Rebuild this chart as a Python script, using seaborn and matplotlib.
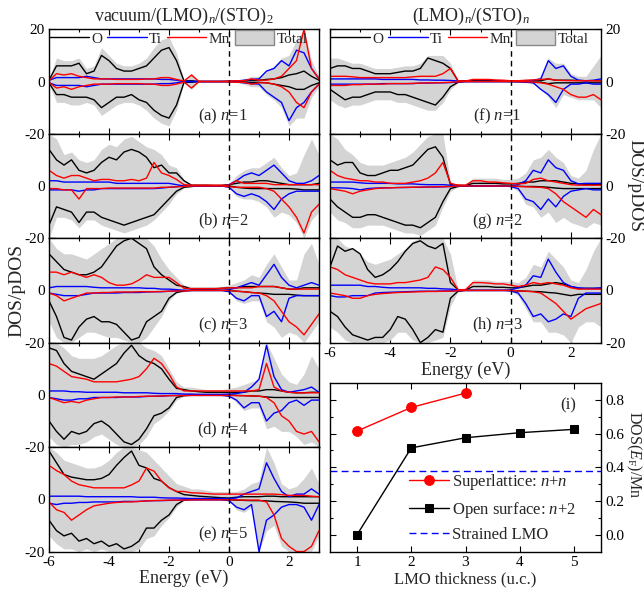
import numpy as np
import matplotlib
matplotlib.use('Agg')
import matplotlib.pyplot as plt
import seaborn as sns
from matplotlib.lines import Line2D
from matplotlib.patches import Patch

energy = np.arange(-6.0, 3.01, 0.25)

# ---- (a) vacuum/(LMO)1/(STO)2
a_O_up = [0.5, 6, 6, 6, 7, 3, 4, 10, 8, 5, 4, 4, 5, 6, 9, 12, 13, 8, 0.2, 0.3, 0, 0, 0, 0, 0.1, 0.2, 0.3, 0.5, 0.5, 0.8, 1, 1.5, 2.5, 3, 4, 2, 0.5]
a_O_dn = [-0.5, -5, -5, -6, -6, -6, -7, -10, -8, -6, -6, -5, -7, -8, -11, -13, -14, -9, -0.3, -0.3, 0, 0, 0, 0, 0, 0, -0.2, -0.3, -0.3, -0.5, -1, -1.5, -2, -3, -3, -1.5, -0.5]
a_Ti_up = [0.5, 1.5, 1.5, 1.5, 1.5, 2, 1.5, 1, 1, 1, 1, 1, 1, 1, 1, 0.8, 0.8, 0.5, 0, 0, 0, 0, 0, 0, 0, 0.2, 0.5, 0.8, 1, 4, 5, 8, 6, 12, 11, 5, 1]
a_Ti_dn = [-0.5, -1.5, -1.5, -1.5, -1.5, -2, -1.5, -1, -1, -1, -1, -1, -1, -1, -1, -0.8, -0.8, -0.5, 0, 0, 0, 0, 0, 0, 0, -0.2, -0.5, -0.8, -1, -4, -6, -8, -15, -10, -8, -4, -1]
a_Mn_up = [0.3, 3, 2.5, 3, 2, 1.5, 1, 1, 1, 0.8, 0.8, 0.8, 0.8, 1, 1, 1.5, 1.5, 0.8, 0.2, 2.5, 0, 0, 0, 0, 0.2, 0.3, 0.3, 1, 0.5, 0.5, 1, 2, 5, 8, 20, 5, 1]
a_Mn_dn = [-0.3, -2.5, -2, -3, -2, -1.5, -1, -1, -1, -0.8, -0.8, -0.8, -0.8, -1, -1, -1.5, -1.5, -1, -0.2, -2.5, 0, 0, 0, 0, -0.2, -0.3, -0.3, -1, -0.5, -0.5, -1, -2, -4, -8, -10, -4, -1]
a_tot_up = [1, 9, 8, 8, 9, 5, 6, 13, 10, 7, 6, 6, 7, 9, 13, 16, 17, 11, 0.5, 3, 0, 0, 0, 0, 0.2, 0.4, 1, 2, 2, 4, 6, 9, 10, 16, 20, 8, 2]
a_tot_dn = [-1, -8, -8, -9, -9, -8, -9, -13, -11, -9, -8, -8, -9, -11, -14, -16, -17, -11, -0.5, -3, 0, 0, 0, 0, -0.2, -0.4, -1, -2, -2, -5, -7, -10, -17, -14, -14, -6, -2]

# ---- (b) n=2
b_O_up = [14, 10, 8, 10, 6, 5, 6, 9, 11, 10, 13, 14, 13, 11, 7, 8, 5, 5, 2, 0.3, 0.3, 0.3, 0.2, 0.2, 0.5, 1, 1.5, 1.5, 2, 2, 1.5, 1, 0.5, 0.5, 0.5, 0.5, 1]
b_O_dn = [-15, -8, -9, -10, -14, -10, -10, -12, -13, -14, -15, -14, -13, -12, -11, -8, -5, -2, -0.5, -0.2, 0, 0, 0, 0, 0, -0.5, -0.8, -1, -1, -1, -1, -1, -1, -1.2, -1.5, -1.5, -1.5]
b_Ti_up = [2, 2, 1.5, 1.5, 1.5, 1.5, 1.5, 1.5, 1.5, 1, 1, 1, 1, 1, 1, 1, 1, 0.5, 0, 0, 0, 0, 0, 0, 0.5, 2, 4, 5, 4, 6, 8, 5, 2, 1, 1, 2, 4]
b_Ti_dn = [-1.5, -1.5, -1.5, -1.5, -2, -1.5, -1.5, -1, -1, -1, -1, -1, -1, -1, -1, -0.8, -0.5, -0.3, 0, 0, 0, 0, 0, 0, -0.5, -3, -4, -3, -4, -6, -9, -5, -3, -2, -2, -2, -2]
b_Mn_up = [6, 4, 3, 4, 4, 3, 2, 2.5, 2.5, 2, 2, 2.5, 2, 3, 9, 5, 4, 2.5, 0.5, 0.3, 0.3, 0.3, 0.3, 0.3, 0.3, 2, 1, 1, 1, 1, 0.5, 0.5, 0.5, 0.5, 0.5, 0.5, 0.5]
b_Mn_dn = [-1, -1, -1.5, -1.5, -5, -1, -1, -1, -0.8, -0.8, -0.8, -0.8, -0.8, -0.8, -0.8, -0.5, -0.5, -0.3, -0.2, 0, 0, 0, 0, 0, -0.3, -0.5, -0.5, -0.5, -0.5, -1, -2, -5, -8, -12, -18, -10, -7]
b_tot_up = [20, 18, 12, 13, 10, 9, 10, 14, 16, 15, 18, 19, 17, 15, 14, 12, 8, 7, 2.5, 0.5, 0.5, 0.5, 0.5, 0.5, 1, 4, 6, 7, 7, 9, 11, 7, 4, 5, 12, 18, 12]
b_tot_dn = [-20, -12, -12, -13, -16, -13, -13, -15, -16, -17, -18, -17, -16, -15, -13, -10, -7, -3, -0.8, -0.3, 0, 0, 0, 0, -0.5, -4, -5, -5, -6, -8, -12, -10, -11, -14, -20, -13, -10]

# ---- (c) n=3
c_O_up = [14, 11, 8, 7, 6, 6, 7, 9, 13, 17, 19, 20, 18, 16, 9, 6, 4, 2, 1.5, 0.5, 0.5, 0.5, 0.5, 0.8, 1, 1, 1.5, 1.5, 1.5, 1.5, 1.5, 1, 0.5, 0.5, 1, 1, 1]
c_O_dn = [-4, -10, -18, -19, -14, -11, -10, -12, -12, -13, -16, -19, -18, -12, -10, -8, -3, -0.8, -0.2, 0, 0, 0, 0, 0, 0, -0.3, -0.5, -0.8, -1, -1.2, -1.5, -1.5, -1.5, -1.8, -2, -2, -2]
c_Ti_up = [1, 1.5, 1.5, 1.5, 1.5, 1.5, 1.2, 1, 1, 1, 1, 1, 1, 0.8, 0.8, 0.5, 0.5, 0.3, 0, 0, 0, 0, 0, 0, 0.3, 1, 2, 3, 2, 6, 10, 5, 2, 1, 2, 3, 2]
c_Ti_dn = [-1, -1.5, -2, -2, -2, -1.5, -1, -1, -1, -1, -0.8, -0.8, -0.8, -0.6, -0.5, -0.5, -0.3, -0.2, 0, 0, 0, 0, 0, 0, -0.5, -3, -4, -2, -2, -10, -8, -12, -3, -2, -2, -2, -2]
c_Mn_up = [7, 7, 6, 7, 6, 5, 6, 5, 3, 2, 2, 2.5, 4, 6, 5, 5, 5, 3, 0.8, 0.7, 0.7, 0.7, 0.7, 0.8, 1, 1, 1, 1, 1.5, 1.5, 1.5, 1, 0.5, 0.5, 0.5, 0.5, 0.5]
c_Mn_dn = [-1, -2, -4, -3, -2, -1, -1, -0.8, -0.8, -0.6, -0.6, -0.6, -0.5, -0.5, -0.5, -0.4, -0.3, -0.2, -0.2, 0, 0, 0, 0, 0, 0, -0.3, -0.5, -0.8, -1, -2, -4, -8, -12, -14, -17, -13, -9]
c_tot_up = [20, 16, 14, 14, 13, 12, 14, 16, 18, 20, 20, 20, 20, 20, 17, 12, 8, 5, 2, 1.5, 1.5, 1.5, 1.5, 1.5, 2, 3, 4, 6, 5, 10, 14, 9, 4, 4, 14, 18, 10]
c_tot_dn = [-12, -18, -20, -20, -18, -16, -16, -17, -18, -18, -19, -20, -20, -18, -14, -10, -4, -1, -0.5, 0, 0, 0, 0, 0, -0.5, -4, -5, -4, -4, -12, -14, -18, -16, -17, -20, -16, -12]

# ---- (d) n=4
d_O_up = [18, 17, 12, 9, 8, 7, 6, 8, 10, 12, 16, 19, 15, 13, 12, 10, 6, 2.5, 2, 1.5, 1.2, 1, 1, 1, 1, 1, 1, 1.5, 1.5, 2, 2, 1.5, 1, 0.8, 0.8, 1, 1]
d_O_dn = [-10, -14, -17, -14, -15, -14, -11, -10, -12, -15, -18, -19, -17, -13, -8, -7, -5, -1, -0.3, 0, 0, 0, 0, 0, 0, -0.2, -0.3, -0.4, -0.5, -0.8, -1, -1, -1, -1, -1, -1, -1]
d_Ti_up = [1.5, 1.5, 1.5, 1.2, 1.2, 1, 1, 1, 1, 1, 0.8, 0.8, 0.8, 0.8, 0.6, 0.5, 0.5, 0.5, 0.3, 0.3, 0.2, 0.2, 0.2, 0.2, 0.3, 0.5, 1, 3, 6, 19, 7, 2, 1, 1.5, 2, 3, 1]
d_Ti_dn = [-1, -1.5, -2, -2, -1.5, -1.5, -1, -1, -1, -1, -0.8, -0.8, -0.8, -0.6, -0.5, -0.5, -0.3, -0.2, -0.2, -0.2, -0.2, -0.2, -0.2, -0.2, -0.5, -2, -5, -3, -3, -10, -7, -6, -3, -2, -4, -2, -2]
d_Mn_up = [12, 11, 9, 7, 6.5, 6, 5, 5, 5, 5, 5.5, 6, 7, 10, 14, 12, 8, 3, 1.5, 1.5, 1.5, 1.5, 1.5, 1.5, 1.5, 1.5, 1.5, 1.5, 2, 12, 3, 1.5, 1, 0.8, 0.8, 0.8, 0.8]
d_Mn_dn = [-1, -2, -3, -2.5, -3, -2, -1.5, -1, -1, -0.8, -0.8, -0.8, -0.6, -0.5, -0.5, -0.4, -0.3, -0.3, -0.3, -0.2, -0.2, -0.2, -0.2, -0.2, -0.2, -0.3, -0.3, -0.4, -0.5, -1, -3, -8, -10, -14, -15, -14, -18]
d_tot_up = [20, 20, 18, 15, 14, 14, 14, 15, 17, 19, 20, 20, 20, 18, 17, 15, 10, 5, 3, 3, 2.5, 2, 2, 2, 2.5, 3, 4, 5, 6, 20, 14, 8, 5, 4, 8, 15, 10]
d_tot_dn = [-16, -19, -20, -19, -19, -18, -16, -15, -17, -19, -20, -20, -19, -16, -11, -9, -6, -2, -0.5, -0.3, -0.3, -0.3, -0.3, -0.3, -0.5, -3, -6, -5, -5, -13, -12, -14, -14, -16, -19, -18, -20]

# ---- (e) n=5
e_O_up = [18.5, 14, 9.5, 8.5, 8, 7.5, 7.5, 8, 9.5, 13, 16, 18.5, 13, 12, 8, 7, 4.5, 3, 1.8, 1.5, 1.2, 1, 0.8, 0.6, 0.5, 0.8, 1, 1, 1, 1.2, 1.2, 1, 1, 1, 1, 1, 1]
e_O_dn = [-8, -12, -14, -13, -16, -15, -17, -16, -18, -17, -19, -18, -16, -11, -11, -8, -6, -2, -0.3, 0, 0, 0, 0, 0, -0.2, -0.3, -0.4, -0.5, -0.5, -0.6, -0.8, -0.9, -1, -1.2, -1.5, -1.5, -1.5]
e_Ti_up = [1.2, 1.2, 1.2, 1.2, 1.2, 1, 1, 1, 1, 1, 1, 1, 0.8, 0.8, 0.8, 0.6, 0.5, 0.5, 0.4, 0.3, 0.3, 0.3, 0.3, 0.3, 0.3, 0.5, 2, 3, 4, 14, 8, 3, 1, 2, 2, 4, 2]
e_Ti_dn = [-1.5, -2, -1.5, -1.5, -1.2, -1.2, -1, -1, -1, -1, -0.8, -0.8, -0.8, -0.6, -0.5, -0.5, -0.4, -0.3, -0.2, -0.2, -0.2, -0.2, -0.2, -0.2, -0.5, -3, -4, -2, -20, -8, -6, -3, -2, -2, -3, -8, -2]
e_Mn_up = [13, 11, 9.5, 7, 5.6, 5, 4.4, 4.4, 4.4, 4.4, 4.4, 5.5, 7, 12, 10.8, 7, 4.4, 3, 3, 2.5, 2.4, 2.2, 2, 2, 2, 2, 2, 2, 2, 2, 2, 1.8, 1.5, 1.5, 1.5, 1.2, 1]
e_Mn_dn = [-1, -4, -5, -8, -6, -4, -2.5, -2, -1.5, -1.2, -1, -1, -0.8, -0.6, -0.5, -0.4, -0.3, -0.3, -0.3, -0.2, -0.2, -0.2, -0.2, -0.2, -0.2, -0.2, -0.3, -0.3, -0.3, -1, -6, -15, -18, -20, -20, -18, -12]
e_tot_up = [20, 18, 15, 14, 13, 12, 12, 13, 15, 18, 20, 20, 19, 18, 15, 12, 9, 6, 5, 4, 4, 3.5, 3, 3, 3, 3, 4, 6, 7, 20, 14, 6, 4, 5, 8, 12, 6]
e_tot_dn = [-14, -17, -19, -19, -20, -19, -20, -19, -20, -20, -20, -20, -19, -15, -14, -10, -7, -3, -0.5, -0.3, -0.3, -0.3, -0.3, -0.3, -0.5, -4, -5, -3, -20, -12, -10, -18, -20, -20, -20, -20, -14]

# ---- (f) (LMO)1/(STO)1
f_O_up = [5, 6, 6, 5, 5, 4, 3, 3, 3, 3.5, 4, 4, 5, 9, 8, 7, 5, 0.3, 0.3, 0.3, 0.3, 0.3, 0.3, 0.2, 0.2, 0.2, 0.2, 0.3, 0.3, 1, 0.5, 0.5, 0.5, 0.4, 0.3, 0.3, 0.3]
f_O_dn = [-3, -5, -7, -6, -6, -5, -4, -4, -4, -5, -5, -6, -7, -8, -9, -6, -2, -0.3, 0, 0, 0, 0, 0, 0, 0, -0.1, -0.2, -0.3, -0.3, -0.8, -0.5, -0.5, -0.5, -0.5, -0.5, -0.5, -0.5]
f_Ti_up = [1, 1, 1, 1, 1, 1, 1, 0.8, 0.8, 0.8, 0.8, 0.8, 0.6, 0.6, 0.5, 0.5, 0.4, 0.2, 0, 0, 0, 0, 0, 0, 0, 0.1, 0.2, 0.5, 1, 8, 5, 6, 2, 0.5, 0.3, 0.5, 1]
f_Ti_dn = [-1, -1, -1, -1, -1, -1, -1, -0.8, -0.8, -0.8, -0.8, -0.8, -0.6, -0.6, -0.5, -0.5, -0.4, -0.2, 0, 0, 0, 0, 0, 0, 0, -0.1, -0.2, -0.5, -3, -5, -8, -3, -1, -1, -0.5, -1, -1]
f_Mn_up = [2, 2, 2, 1.8, 1.5, 1.5, 1.5, 1.5, 1.5, 1.5, 1.5, 1.8, 2, 2, 2, 3, 5, 0.3, 0.2, 0.8, 0.8, 0.8, 0.6, 0.5, 0.3, 0.3, 0.5, 0.6, 0.8, 1, 0.5, 0.4, 0.3, 0.3, 0.3, 0.3, 0.3]
f_Mn_dn = [-1.5, -1.5, -1.5, -1.2, -1.2, -1, -1, -1, -0.8, -0.8, -0.8, -0.7, -0.6, -0.5, -0.5, -0.4, -0.3, -0.1, 0, 0, 0, 0, 0, 0, 0, 0, -0.1, -0.2, -0.5, -1, -2, -3, -5, -6, -6, -5, -7]
f_tot_up = [9, 9, 8, 7, 7, 6, 5, 5, 5, 5.5, 6, 6, 7, 10, 10, 10, 7, 0.5, 0.3, 1, 1, 1, 0.8, 0.6, 0.5, 0.5, 0.8, 1, 2, 9, 7, 7, 3, 2, 2, 6, 10]
f_tot_dn = [-7, -9, -10, -9, -9, -8, -7, -7, -7, -8, -8, -9, -10, -11, -11, -8, -3, -0.5, 0, 0, 0, 0, 0, 0, -0.3, -0.3, -0.5, -1, -3, -6, -10, -5, -6, -7, -7, -7, -10]

# ---- (g) n=2
g_O_up = [10, 8, 9, 9, 5, 4, 4, 5, 6, 6, 7, 8, 11, 14, 15, 11, 0.5, 0.3, 0.2, 1, 1, 1, 1, 0.8, 0.8, 1, 1.5, 1.5, 2, 2, 2, 1.5, 1, 0.8, 0.6, 0.6, 0.6]
g_O_dn = [-5, -8, -10, -12, -12, -11, -11, -12, -13, -14, -15, -15, -16, -14, -12, -6, -1, -0.2, 0, 0, 0, 0, 0, 0, 0, -0.1, -0.2, -0.2, -0.3, -0.5, -0.8, -1, -1, -1, -1, -1, -1]
g_Ti_up = [1.5, 1.5, 1.5, 1.5, 1.2, 1, 1, 1, 1, 0.8, 0.8, 0.8, 0.6, 0.5, 0.5, 0.5, 0.3, 0, 0, 0, 0, 0, 0, 0, 0.1, 0.5, 2, 6, 5, 10, 7, 6, 2, 0.8, 1, 1, 1]
g_Ti_dn = [-0.7, -0.7, -0.8, -1, -1.5, -1, -0.8, -0.7, -0.7, -0.6, -0.6, -0.5, -0.5, -0.4, -0.4, -0.3, -0.2, 0, 0, 0, 0, 0, 0, 0, -0.2, -1, -5, -6, -9, -5, -8, -4, -2, -1.5, -1, -1.5, -1.5]
g_Mn_up = [6, 4, 3, 2.5, 2, 2, 1.5, 1.5, 1, 1, 1, 1.5, 2, 3, 5, 9, 1, 0.3, 0.3, 2, 2, 1.5, 1.5, 1.2, 1, 0.8, 1, 2.5, 3, 2, 1.5, 1, 0.5, 0.3, 0.3, 0.3, 0.3]
g_Mn_dn = [-1, -1.5, -2, -3, -2, -1.5, -1, -0.8, -0.7, -0.6, -0.5, -0.5, -0.4, -0.4, -0.3, -0.3, -0.2, 0, 0, 0, 0, 0, 0, 0, 0, -0.2, -0.3, -0.4, -0.5, -1, -3, -6, -8, -10, -12, -9, -11]
g_tot_up = [20, 18, 14, 12, 9, 8, 8, 8, 9, 10, 11, 13, 16, 19, 20, 20, 1.5, 0.5, 0.5, 3, 3, 3, 3, 2.5, 2.5, 3, 5, 10, 11, 14, 11, 9, 4, 3, 6, 14, 20]
g_tot_dn = [-10, -13, -14, -16, -16, -15, -15, -15, -16, -17, -18, -18, -19, -17, -15, -8, -2, -0.3, 0, 0, 0, 0, 0, 0, -0.3, -2, -7, -8, -12, -10, -14, -12, -14, -15, -16, -14, -15]

# ---- (h) n=3
h_O_up = [9, 17, 15, 16, 14, 8, 5, 6, 8, 11, 15, 18, 19, 17, 16, 18, 3, 0.3, 0.2, 1.5, 1.5, 1.5, 1.2, 1.2, 1, 1, 1.5, 2, 2, 2.5, 3, 2.5, 1.5, 0.8, 0.8, 0.8, 0.8]
h_O_dn = [-8, -10, -14, -17, -18, -19, -18, -18, -15, -10, -11, -15, -20, -18, -15, -16, -3, -0.3, 0, 0, 0, 0, 0, 0, 0, -0.2, -0.3, -0.4, -0.5, -0.8, -1, -1.5, -2, -1.5, -1.5, -1.5, -1.5]
h_Ti_up = [2, 2, 2, 2, 2, 1.5, 1.5, 1.2, 1, 1, 1, 1, 1, 0.8, 0.8, 0.6, 0.5, 0.2, 0, 0, 0, 0, 0, 0, 0.2, 1, 2, 5.6, 5, 12, 7, 3, 1.5, 1, 0.8, 0.8, 1]
h_Ti_dn = [-2, -2.5, -2.5, -2, -2, -2, -1, -0.8, -0.7, -0.6, -0.5, -0.4, -0.3, -0.3, -0.3, -0.2, -0.2, -0.1, 0, 0, 0, 0, 0, 0, -0.2, -1, -5, -10, -9, -12, -11, -9, -10, -3, -1, -1, -1]
h_Mn_up = [9, 8, 6, 5, 4, 3, 2.5, 2.5, 2.5, 3, 3, 3.5, 4, 5, 9, 8, 5, 0.3, 0.3, 3, 3, 2.8, 2.5, 2.5, 2, 1.5, 2, 3, 2.5, 3, 2.5, 2, 1, 0.5, 0.5, 0.5, 0.5]
h_Mn_dn = [-1, -1.5, -2, -3, -3, -2, -1.5, -1.2, -1, -0.8, -0.7, -0.6, -0.5, -0.4, -0.4, -0.3, -0.3, -0.1, 0, 0, 0, 0, 0, 0, 0, -0.2, -0.3, -0.5, -1, -3, -5, -8, -11, -9, -7, -6, -5]
h_tot_up = [20, 20, 17, 16, 14, 11, 10, 11, 12, 14, 16, 19, 20, 20, 20, 20, 14, 0.5, 0.5, 4, 4, 4, 3.5, 3.5, 3.5, 3, 5, 10, 9, 15, 12, 9, 4, 3, 8, 15, 20]
h_tot_dn = [-14, -16, -19, -20, -20, -20, -20, -20, -19, -16, -16, -19, -20, -20, -19, -18, -6, -0.5, 0, 0, 0, 0, 0, 0, -0.3, -2, -7, -12, -12, -16, -16, -17, -20, -14, -12, -12, -14]

# ---- (i) DOS at E_F per Mn
sl_thickness = [1, 2, 3]
superlattice = [0.615, 0.755, 0.84]
os_thickness = [1, 2, 3, 4, 5]
open_surface = [0.0, 0.515, 0.575, 0.605, 0.625]
strained_lmo = 0.38

left_panels = [
    ('(a) $n$=1', (a_tot_up, a_tot_dn, a_O_up, a_O_dn, a_Ti_up, a_Ti_dn, a_Mn_up, a_Mn_dn)),
    ('(b) $n$=2', (b_tot_up, b_tot_dn, b_O_up, b_O_dn, b_Ti_up, b_Ti_dn, b_Mn_up, b_Mn_dn)),
    ('(c) $n$=3', (c_tot_up, c_tot_dn, c_O_up, c_O_dn, c_Ti_up, c_Ti_dn, c_Mn_up, c_Mn_dn)),
    ('(d) $n$=4', (d_tot_up, d_tot_dn, d_O_up, d_O_dn, d_Ti_up, d_Ti_dn, d_Mn_up, d_Mn_dn)),
    ('(e) $n$=5', (e_tot_up, e_tot_dn, e_O_up, e_O_dn, e_Ti_up, e_Ti_dn, e_Mn_up, e_Mn_dn)),
]
right_panels = [
    ('(f) $n$=1', (f_tot_up, f_tot_dn, f_O_up, f_O_dn, f_Ti_up, f_Ti_dn, f_Mn_up, f_Mn_dn)),
    ('(g) $n$=2', (g_tot_up, g_tot_dn, g_O_up, g_O_dn, g_Ti_up, g_Ti_dn, g_Mn_up, g_Mn_dn)),
    ('(h) $n$=3', (h_tot_up, h_tot_dn, h_O_up, h_O_dn, h_Ti_up, h_Ti_dn, h_Mn_up, h_Mn_dn)),
]

sns.set_theme(style='ticks')
plt.rcParams['font.family'] = ['Liberation Serif', 'DejaVu Serif']
plt.rcParams['mathtext.fontset'] = 'custom'
plt.rcParams['mathtext.rm'] = 'Liberation Serif'
plt.rcParams['mathtext.it'] = 'Liberation Serif:italic'
plt.rcParams['axes.unicode_minus'] = False

GRAY = '#d4d4d4'
W, H = 644, 595
fig = plt.figure(figsize=(W / 100, H / 100), dpi=100)


def add_axes(x0, y0, x1, y1):
    # pixel box -> figure fraction
    return fig.add_axes([x0 / W, 1 - y1 / H, (x1 - x0) / W, (y1 - y0) / H])


def style_axes(ax):
    for s in ax.spines.values():
        s.set_linewidth(1.0)
        s.set_color('black')
    ax.tick_params(which='both', direction='in', top=True, right=True,
                   width=0.8, labelsize=11, colors='black', pad=3)
    ax.tick_params(which='major', length=4)
    ax.tick_params(which='minor', length=2.5)


def draw_dos(ax, label, curves, text_x):
    tot_up, tot_dn, o_up, o_dn, ti_up, ti_dn, mn_up, mn_dn = curves
    ax.fill_between(energy, tot_dn, tot_up, color=GRAY, lw=0)
    for up, dn, c in ((o_up, o_dn, 'black'), (ti_up, ti_dn, 'blue'), (mn_up, mn_dn, 'red')):
        sns.lineplot(x=energy, y=up, color=c, lw=1, ax=ax, legend=False)
        sns.lineplot(x=energy, y=dn, color=c, lw=1, ax=ax, legend=False)
    ax.axvline(0, color='black', ls=(0, (4, 3)), lw=1)
    ax.set_xlim(-6, 3)
    ax.set_ylim(-20, 20)
    ax.set_xticks([-6, -4, -2, 0, 2])
    ax.set_xticks([-5, -3, -1, 1, 3], minor=True)
    ax.set_yticks([-20, 0, 20])
    ax.set_xlabel('')
    ax.set_ylabel('')
    ax.text(text_x, -13.5, label, ha='center', va='center', fontsize=12)
    style_axes(ax)


legend_handles = [
    Line2D([], [], color='black', lw=1, label='O'),
    Line2D([], [], color='blue', lw=1, label='Ti'),
    Line2D([], [], color='red', lw=1, label='Mn'),
    Patch(facecolor=GRAY, edgecolor='#888888', label='Total'),
]
legend_kw = dict(handles=legend_handles, loc='upper left', bbox_to_anchor=(-0.01, 1.02),
                 ncol=4, frameon=False, fontsize=11, handlelength=2.6, handletextpad=0.15,
                 columnspacing=0.3, borderaxespad=0, borderpad=0.2, handleheight=1.1)

ph = 104.45
for k, (label, curves) in enumerate(left_panels):
    top = 29.3 + k * ph
    ax = add_axes(49, top, 319, top + ph)
    draw_dos(ax, label, curves, -0.2)
    ax.set_yticklabels(['-20', '0', '20' if k == 0 else ''])
    if k < 4:
        ax.tick_params(labelbottom=False)
    else:
        ax.set_xlabel('Energy (eV)', fontsize=13, labelpad=1)
    if k == 0:
        ax.legend(**legend_kw)

for k, (label, curves) in enumerate(right_panels):
    top = 29.3 + k * ph
    ax = add_axes(330, top, 601, top + ph)
    draw_dos(ax, label, curves, -0.45)
    ax.set_yticklabels(['-20', '0', '20' if k == 0 else ''])
    ax.tick_params(labelleft=False, labelright=True)
    if k < 2:
        ax.tick_params(labelbottom=False)
    else:
        ax.set_xlabel('Energy (eV)', fontsize=13, labelpad=1)
    if k == 0:
        ax.legend(**legend_kw)

# ---- panel (i)
ax_i = add_axes(330, 383, 601, 551.5)
sns.lineplot(x=sl_thickness, y=superlattice, color='red', marker='o', markersize=7,
             markeredgecolor='red', lw=1, ax=ax_i, label='Superlattice: $n$+$n$')
sns.lineplot(x=os_thickness, y=open_surface, color='black', marker='s', markersize=6,
             markeredgecolor='black', lw=1, ax=ax_i, label='Open surface: $n$+2')
ax_i.axhline(strained_lmo, color='blue', ls=(0, (5, 3)), lw=1, label='Strained LMO')
ax_i.set_xlim(0.5, 5.5)
ax_i.set_ylim(-0.1, 0.9)
ax_i.set_xticks([1, 2, 3, 4, 5])
ax_i.set_yticks([0.0, 0.2, 0.4, 0.6, 0.8])
ax_i.set_yticklabels(['0.0', '0.2', '0.4', '0.6', '0.8'])
ax_i.set_yticks([0.1, 0.3, 0.5, 0.7], minor=True)
style_axes(ax_i)
ax_i.tick_params(labelleft=False, labelright=True)
ax_i.set_xlabel('LMO thickness (u.c.)', fontsize=12, labelpad=2)
ax_i.set_ylabel('')
ax_i.text(4.9, 0.77, '(i)', ha='center', va='center', fontsize=12)
ax_i.legend(loc='lower left', bbox_to_anchor=(0.26, 0.0), frameon=False, fontsize=12,
            handlelength=2.4, handletextpad=0.2, labelspacing=0.45, borderaxespad=0.1)

# ---- figure texts
fig.text(184 / W, 1 - 16 / H, 'vacuum/(LMO)$_n$/(STO)$_2$', ha='center', va='center', fontsize=13)
fig.text(471 / W, 1 - 16 / H, '(LMO)$_n$/(STO)$_n$', ha='center', va='center', fontsize=13)
fig.text(17 / W, 1 - 290 / H, 'DOS/pDOS', rotation=90, ha='center', va='center', fontsize=14)
fig.text(635 / W, 1 - 186 / H, 'DOS/pDOS', rotation=270, ha='center', va='center', fontsize=14)
fig.text(634 / W, 1 - 455 / H, 'DOS($E_\\mathrm{F}$)/Mn', rotation=270, ha='center', va='center', fontsize=11.5)

fig.savefig('out.png', dpi=100)
